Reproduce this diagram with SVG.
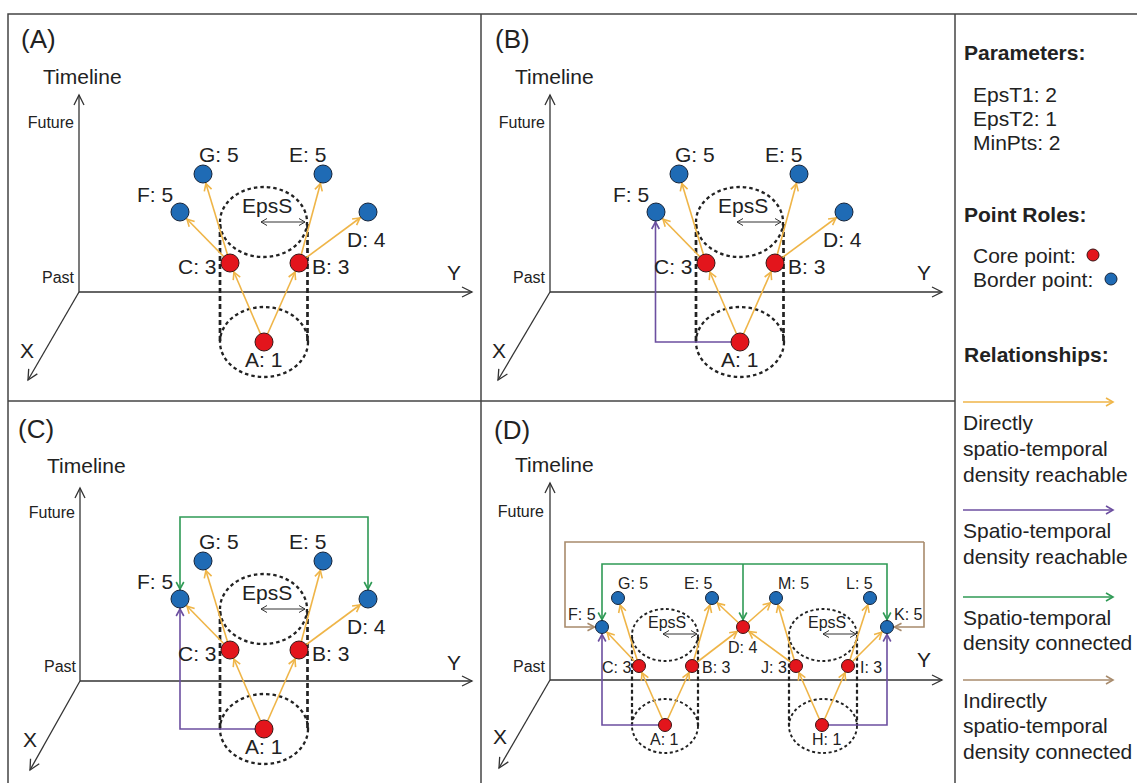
<svg xmlns="http://www.w3.org/2000/svg" width="1137" height="783" viewBox="0 0 1137 783">
  <style>
    .t { font-family: "Liberation Sans", Arial, sans-serif; fill: #222; }
    .pl { font-size: 26px; }
    .tl { font-size: 21px; }
    .sm { font-size: 16px; }
    .axl { font-size: 21px; }
    .lb { font-size: 21px; }
    .lbd { font-size: 16px; }
    .lg { font-size: 21px; }
    .lgb { font-size: 21px; font-weight: bold; }
    .frame { fill: none; stroke: #444; stroke-width: 1.5; }
    .axis { fill: none; stroke: #333; stroke-width: 1.3; }
    .ell { fill: none; stroke: #222; stroke-width: 2.3; stroke-dasharray: 3.5 3; }
    .cyl { fill: none; stroke: #222; stroke-width: 2.7; stroke-dasharray: 5 3; }
    .elld { fill: none; stroke: #222; stroke-width: 1.9; stroke-dasharray: 3 2.6; }
    .cyld { fill: none; stroke: #222; stroke-width: 2.2; stroke-dasharray: 4 2.6; }
    .eps { fill: none; stroke: #333; stroke-width: 1; }
    .or { fill: none; stroke: #EFB548; stroke-width: 1.6; }
    .pu { fill: none; stroke: #6C4FA0; stroke-width: 1.6; }
    .gr { fill: none; stroke: #2F9A55; stroke-width: 1.6; }
    .br { fill: none; stroke: #A88B6C; stroke-width: 1.6; }
    .core { fill: #E3151C; stroke: #3a1515; stroke-width: 1; }
    .border { fill: #1F6BB5; stroke: #15243a; stroke-width: 1; }
  </style>
  <defs>
    <marker id="m-axis" markerUnits="userSpaceOnUse" markerWidth="12" markerHeight="12" refX="0" refY="0" orient="auto" overflow="visible">
      <path d="M-10,-5 L0,0 L-10,5" fill="none" stroke="#333" stroke-width="1.3"/>
    </marker>
    <marker id="m-eps" markerUnits="userSpaceOnUse" markerWidth="8" markerHeight="8" refX="0" refY="0" orient="auto-start-reverse" overflow="visible">
      <path d="M-6,-3.5 L0,0 L-6,3.5" fill="none" stroke="#333" stroke-width="1"/>
    </marker>
    <!-- arrowheads stopping at the rim of a large point (r 9) -->
    <marker id="m-or" markerUnits="userSpaceOnUse" markerWidth="10" markerHeight="10" refX="10" refY="0" orient="auto" overflow="visible">
      <path d="M-7,-3.8 L0,0 L-7,3.8" fill="none" stroke="#EFB548" stroke-width="1.6"/>
    </marker>
    <marker id="m-pu" markerUnits="userSpaceOnUse" markerWidth="10" markerHeight="10" refX="10" refY="0" orient="auto" overflow="visible">
      <path d="M-7,-3.8 L0,0 L-7,3.8" fill="none" stroke="#6C4FA0" stroke-width="1.6"/>
    </marker>
    <marker id="m-gr" markerUnits="userSpaceOnUse" markerWidth="10" markerHeight="10" refX="10" refY="0" orient="auto" overflow="visible">
      <path d="M-7,-3.8 L0,0 L-7,3.8" fill="none" stroke="#2F9A55" stroke-width="1.6"/>
    </marker>
    <!-- arrowheads stopping at the rim of a small point (r 6.5) -->
    <marker id="m-or-s" markerUnits="userSpaceOnUse" markerWidth="10" markerHeight="10" refX="7.5" refY="0" orient="auto" overflow="visible">
      <path d="M-7,-3.8 L0,0 L-7,3.8" fill="none" stroke="#EFB548" stroke-width="1.6"/>
    </marker>
    <marker id="m-pu-s" markerUnits="userSpaceOnUse" markerWidth="10" markerHeight="10" refX="7.5" refY="0" orient="auto" overflow="visible">
      <path d="M-7,-3.8 L0,0 L-7,3.8" fill="none" stroke="#6C4FA0" stroke-width="1.6"/>
    </marker>
    <marker id="m-gr-s" markerUnits="userSpaceOnUse" markerWidth="10" markerHeight="10" refX="7.5" refY="0" orient="auto" overflow="visible">
      <path d="M-7,-3.8 L0,0 L-7,3.8" fill="none" stroke="#2F9A55" stroke-width="1.6"/>
    </marker>
    <marker id="m-br-s" markerUnits="userSpaceOnUse" markerWidth="10" markerHeight="10" refX="7.5" refY="0" orient="auto" overflow="visible">
      <path d="M-7,-3.8 L0,0 L-7,3.8" fill="none" stroke="#A88B6C" stroke-width="1.6"/>
    </marker>
    <!-- legend arrowheads -->
    <marker id="l-or" markerUnits="userSpaceOnUse" markerWidth="10" markerHeight="10" refX="0" refY="0" orient="auto" overflow="visible">
      <path d="M-7,-4 L0,0 L-7,4" fill="none" stroke="#EFB548" stroke-width="1.6"/>
    </marker>
    <marker id="l-pu" markerUnits="userSpaceOnUse" markerWidth="10" markerHeight="10" refX="0" refY="0" orient="auto" overflow="visible">
      <path d="M-7,-4 L0,0 L-7,4" fill="none" stroke="#6C4FA0" stroke-width="1.6"/>
    </marker>
    <marker id="l-gr" markerUnits="userSpaceOnUse" markerWidth="10" markerHeight="10" refX="0" refY="0" orient="auto" overflow="visible">
      <path d="M-7,-4 L0,0 L-7,4" fill="none" stroke="#2F9A55" stroke-width="1.6"/>
    </marker>
    <marker id="l-br" markerUnits="userSpaceOnUse" markerWidth="10" markerHeight="10" refX="0" refY="0" orient="auto" overflow="visible">
      <path d="M-7,-4 L0,0 L-7,4" fill="none" stroke="#A88B6C" stroke-width="1.6"/>
    </marker>
  </defs>

  <rect x="0" y="0" width="1137" height="783" fill="#fff"/>

  <!-- frame and panel dividers -->
  <g id="frame">
    <path class="frame" d="M8,783 V14 H1137"/>
    <path class="frame" d="M481,14 V783"/>
    <path class="frame" d="M955,14 V783"/>
    <path class="frame" d="M8,401 H955"/>
  </g>

  <!-- ===== Panel A ===== -->
  <g id="panel-A">
    <g id="axes-A">
      <path class="axis" d="M79,292 V95" marker-end="url(#m-axis)"/>
      <path class="axis" d="M79,292 H472" marker-end="url(#m-axis)"/>
      <path class="axis" d="M79,292 L28,380" marker-end="url(#m-axis)"/>
      <text class="t pl" x="21" y="48">(A)</text>
      <text class="t tl" x="43" y="84">Timeline</text>
      <text class="t sm" x="74" y="128" text-anchor="end">Future</text>
      <text class="t sm" x="74" y="283" text-anchor="end">Past</text>
      <text class="t axl" x="447" y="280">Y</text>
      <text class="t axl" x="20" y="358">X</text>
    </g>
    <g id="region-A">
      <ellipse class="ell" cx="263.5" cy="222" rx="43.5" ry="35"/>
      <ellipse class="ell" cx="264" cy="342" rx="44" ry="35"/>
      <path class="cyl" d="M220,224 V342 M307.5,224 V342"/>
      <path class="eps" d="M261,222 H305" marker-start="url(#m-eps)" marker-end="url(#m-eps)"/>
      <text class="t lb" x="242" y="213">EpsS</text>
    </g>
    <g id="connectors-A">
      <path class="or" d="M264,342 L230,263" marker-end="url(#m-or)"/>
      <path class="or" d="M264,342 L299,263" marker-end="url(#m-or)"/>
      <path class="or" d="M230,263 L180,212" marker-end="url(#m-or)"/>
      <path class="or" d="M230,263 L203,174" marker-end="url(#m-or)"/>
      <path class="or" d="M299,263 L323,174" marker-end="url(#m-or)"/>
      <path class="or" d="M299,263 L368,212" marker-end="url(#m-or)"/>
    </g>
    <g id="A-A"><circle class="core" cx="264" cy="342" r="9"/><text class="t lb" x="245" y="367">A: 1</text></g>
    <g id="A-B"><circle class="core" cx="299" cy="263" r="9"/><text class="t lb" x="312" y="274">B: 3</text></g>
    <g id="A-C"><circle class="core" cx="230" cy="263" r="9"/><text class="t lb" x="178" y="274">C: 3</text></g>
    <g id="A-D"><circle class="border" cx="368" cy="212" r="9"/><text class="t lb" x="347" y="247">D: 4</text></g>
    <g id="A-E"><circle class="border" cx="323" cy="174" r="9"/><text class="t lb" x="289" y="162">E: 5</text></g>
    <g id="A-F"><circle class="border" cx="180" cy="212" r="9"/><text class="t lb" x="137" y="202">F: 5</text></g>
    <g id="A-G"><circle class="border" cx="203" cy="174" r="9"/><text class="t lb" x="199" y="162">G: 5</text></g>
  </g>

  <!-- ===== Panel B ===== -->
  <g id="panel-B">
    <g id="axes-B">
      <path class="axis" d="M550,292 V95" marker-end="url(#m-axis)"/>
      <path class="axis" d="M550,292 H942" marker-end="url(#m-axis)"/>
      <path class="axis" d="M550,292 L498,380" marker-end="url(#m-axis)"/>
      <text class="t pl" x="495" y="48">(B)</text>
      <text class="t tl" x="515" y="84">Timeline</text>
      <text class="t sm" x="545" y="128" text-anchor="end">Future</text>
      <text class="t sm" x="545" y="283" text-anchor="end">Past</text>
      <text class="t axl" x="917" y="280">Y</text>
      <text class="t axl" x="492" y="358">X</text>
    </g>
    <g transform="translate(476,0)">
      <g id="region-B">
        <ellipse class="ell" cx="263.5" cy="222" rx="43.5" ry="35"/>
        <ellipse class="ell" cx="264" cy="342" rx="44" ry="35"/>
        <path class="cyl" d="M220,224 V342 M307.5,224 V342"/>
        <path class="eps" d="M261,222 H305" marker-start="url(#m-eps)" marker-end="url(#m-eps)"/>
        <text class="t lb" x="242" y="213">EpsS</text>
      </g>
      <g id="connectors-B">
        <path class="pu" d="M264,342 H179.5 V212" marker-end="url(#m-pu)"/>
        <path class="or" d="M264,342 L230,263" marker-end="url(#m-or)"/>
        <path class="or" d="M264,342 L299,263" marker-end="url(#m-or)"/>
        <path class="or" d="M230,263 L180,212" marker-end="url(#m-or)"/>
        <path class="or" d="M230,263 L203,174" marker-end="url(#m-or)"/>
        <path class="or" d="M299,263 L323,174" marker-end="url(#m-or)"/>
        <path class="or" d="M299,263 L368,212" marker-end="url(#m-or)"/>
      </g>
      <g id="B-A"><circle class="core" cx="264" cy="342" r="9"/><text class="t lb" x="245" y="367">A: 1</text></g>
      <g id="B-B"><circle class="core" cx="299" cy="263" r="9"/><text class="t lb" x="312" y="274">B: 3</text></g>
      <g id="B-C"><circle class="core" cx="230" cy="263" r="9"/><text class="t lb" x="178" y="274">C: 3</text></g>
      <g id="B-D"><circle class="border" cx="368" cy="212" r="9"/><text class="t lb" x="347" y="247">D: 4</text></g>
      <g id="B-E"><circle class="border" cx="323" cy="174" r="9"/><text class="t lb" x="289" y="162">E: 5</text></g>
      <g id="B-F"><circle class="border" cx="180" cy="212" r="9"/><text class="t lb" x="137" y="202">F: 5</text></g>
      <g id="B-G"><circle class="border" cx="203" cy="174" r="9"/><text class="t lb" x="199" y="162">G: 5</text></g>
    </g>
  </g>

  <!-- ===== Panel C ===== -->
  <g id="panel-C">
    <g id="axes-C">
      <path class="axis" d="M80,681 V488" marker-end="url(#m-axis)"/>
      <path class="axis" d="M80,681 H472" marker-end="url(#m-axis)"/>
      <path class="axis" d="M80,681 L30,770" marker-end="url(#m-axis)"/>
      <text class="t pl" x="18" y="438">(C)</text>
      <text class="t tl" x="47" y="473">Timeline</text>
      <text class="t sm" x="75" y="518" text-anchor="end">Future</text>
      <text class="t sm" x="76" y="672" text-anchor="end">Past</text>
      <text class="t axl" x="447" y="670">Y</text>
      <text class="t axl" x="23" y="747">X</text>
    </g>
    <g transform="translate(0,387)">
      <g id="region-C">
        <ellipse class="ell" cx="263.5" cy="222" rx="43.5" ry="35"/>
        <ellipse class="ell" cx="264" cy="342" rx="44" ry="35"/>
        <path class="cyl" d="M220,224 V342 M307.5,224 V342"/>
        <path class="eps" d="M261,222 H305" marker-start="url(#m-eps)" marker-end="url(#m-eps)"/>
        <text class="t lb" x="242" y="213">EpsS</text>
      </g>
      <g id="connectors-C">
        <path class="gr" d="M274,130 H180 V212" marker-end="url(#m-gr)"/>
        <path class="gr" d="M274,130 H368 V212" marker-end="url(#m-gr)"/>
        <path class="pu" d="M264,342 H180 V212" marker-end="url(#m-pu)"/>
        <path class="or" d="M264,342 L230,263" marker-end="url(#m-or)"/>
        <path class="or" d="M264,342 L299,263" marker-end="url(#m-or)"/>
        <path class="or" d="M230,263 L180,212" marker-end="url(#m-or)"/>
        <path class="or" d="M230,263 L203,174" marker-end="url(#m-or)"/>
        <path class="or" d="M299,263 L323,174" marker-end="url(#m-or)"/>
        <path class="or" d="M299,263 L368,212" marker-end="url(#m-or)"/>
      </g>
      <g id="C-A"><circle class="core" cx="264" cy="342" r="9"/><text class="t lb" x="245" y="367">A: 1</text></g>
      <g id="C-B"><circle class="core" cx="299" cy="263" r="9"/><text class="t lb" x="312" y="274">B: 3</text></g>
      <g id="C-C"><circle class="core" cx="230" cy="263" r="9"/><text class="t lb" x="178" y="274">C: 3</text></g>
      <g id="C-D"><circle class="border" cx="368" cy="212" r="9"/><text class="t lb" x="347" y="247">D: 4</text></g>
      <g id="C-E"><circle class="border" cx="323" cy="174" r="9"/><text class="t lb" x="289" y="162">E: 5</text></g>
      <g id="C-F"><circle class="border" cx="180" cy="212" r="9"/><text class="t lb" x="137" y="202">F: 5</text></g>
      <g id="C-G"><circle class="border" cx="203" cy="174" r="9"/><text class="t lb" x="199" y="162">G: 5</text></g>
    </g>
  </g>

  <!-- ===== Panel D ===== -->
  <g id="panel-D">
    <g id="axes-D">
      <path class="axis" d="M550,680 V483" marker-end="url(#m-axis)"/>
      <path class="axis" d="M550,680 H942" marker-end="url(#m-axis)"/>
      <path class="axis" d="M550,680 L499,768" marker-end="url(#m-axis)"/>
      <text class="t pl" x="494" y="439">(D)</text>
      <text class="t tl" x="515" y="472">Timeline</text>
      <text class="t sm" x="544" y="517" text-anchor="end">Future</text>
      <text class="t sm" x="545" y="672" text-anchor="end">Past</text>
      <text class="t axl" x="917" y="667">Y</text>
      <text class="t axl" x="493" y="744">X</text>
    </g>
    <g id="region-D">
      <ellipse class="elld" cx="665" cy="635" rx="33" ry="26"/>
      <ellipse class="elld" cx="665" cy="726" rx="33" ry="27"/>
      <path class="cyld" d="M632,637 V726 M698,637 V726"/>
      <path class="eps" d="M663,634 H697" marker-start="url(#m-eps)" marker-end="url(#m-eps)"/>
      <text class="t lbd" x="648" y="628">EpsS</text>
      <ellipse class="elld" cx="823" cy="635" rx="34" ry="26"/>
      <ellipse class="elld" cx="823" cy="726" rx="34" ry="27"/>
      <path class="cyld" d="M789,637 V726 M857,637 V726"/>
      <path class="eps" d="M823,634 H856" marker-start="url(#m-eps)" marker-end="url(#m-eps)"/>
      <text class="t lbd" x="808" y="628">EpsS</text>
    </g>
    <g id="connectors-D">
      <path class="br" d="M924,542 H565 V627 H602" marker-end="url(#m-br-s)"/>
      <path class="br" d="M924,542 V627 H887" marker-end="url(#m-br-s)"/>
      <path class="gr" d="M743,564 H602 V627" marker-end="url(#m-gr-s)"/>
      <path class="gr" d="M743,564 H887 V627" marker-end="url(#m-gr-s)"/>
      <path class="gr" d="M743,564 V627" marker-end="url(#m-gr-s)"/>
      <path class="pu" d="M665,725 H602 V627" marker-end="url(#m-pu-s)"/>
      <path class="pu" d="M822,725 H887 V627" marker-end="url(#m-pu-s)"/>
      <path class="or" d="M665,725 L639,666" marker-end="url(#m-or-s)"/>
      <path class="or" d="M665,725 L692,666" marker-end="url(#m-or-s)"/>
      <path class="or" d="M639,666 L602,627" marker-end="url(#m-or-s)"/>
      <path class="or" d="M639,666 L618,598" marker-end="url(#m-or-s)"/>
      <path class="or" d="M692,666 L712,598" marker-end="url(#m-or-s)"/>
      <path class="or" d="M692,666 L743,627" marker-end="url(#m-or-s)"/>
      <path class="or" d="M743,627 L712,598" marker-end="url(#m-or-s)"/>
      <path class="or" d="M743,627 L776,598" marker-end="url(#m-or-s)"/>
      <path class="or" d="M796,666 L743,627" marker-end="url(#m-or-s)"/>
      <path class="or" d="M796,666 L776,598" marker-end="url(#m-or-s)"/>
      <path class="or" d="M822,725 L796,666" marker-end="url(#m-or-s)"/>
      <path class="or" d="M822,725 L848,666" marker-end="url(#m-or-s)"/>
      <path class="or" d="M848,666 L870,598" marker-end="url(#m-or-s)"/>
      <path class="or" d="M848,666 L887,627" marker-end="url(#m-or-s)"/>
    </g>
    <g id="D-A"><circle class="core" cx="665" cy="725" r="6.5"/><text class="t lbd" x="650" y="745">A: 1</text></g>
    <g id="D-B"><circle class="core" cx="692" cy="666" r="6.5"/><text class="t lbd" x="702" y="673">B: 3</text></g>
    <g id="D-C"><circle class="core" cx="639" cy="666" r="6.5"/><text class="t lbd" x="602" y="673">C: 3</text></g>
    <g id="D-D"><circle class="core" cx="743" cy="627" r="6.5"/><text class="t lbd" x="728" y="653">D: 4</text></g>
    <g id="D-E"><circle class="border" cx="712" cy="598" r="6.5"/><text class="t lbd" x="684" y="589">E: 5</text></g>
    <g id="D-F"><circle class="border" cx="602" cy="627" r="6.5"/><text class="t lbd" x="568" y="620">F: 5</text></g>
    <g id="D-G"><circle class="border" cx="618" cy="598" r="6.5"/><text class="t lbd" x="618" y="589">G: 5</text></g>
    <g id="D-H"><circle class="core" cx="822" cy="725" r="6.5"/><text class="t lbd" x="812" y="745">H: 1</text></g>
    <g id="D-I"><circle class="core" cx="848" cy="666" r="6.5"/><text class="t lbd" x="860" y="673">I: 3</text></g>
    <g id="D-J"><circle class="core" cx="796" cy="666" r="6.5"/><text class="t lbd" x="761" y="673">J: 3</text></g>
    <g id="D-K"><circle class="border" cx="887" cy="627" r="6.5"/><text class="t lbd" x="894" y="620">K: 5</text></g>
    <g id="D-L"><circle class="border" cx="870" cy="598" r="6.5"/><text class="t lbd" x="846" y="589">L: 5</text></g>
    <g id="D-M"><circle class="border" cx="776" cy="598" r="6.5"/><text class="t lbd" x="778" y="589">M: 5</text></g>
  </g>

  <!-- ===== Legend ===== -->
  <g id="legend">
    <text class="t lgb" x="964" y="60">Parameters:</text>
    <text class="t lg" x="973" y="102">EpsT1: 2</text>
    <text class="t lg" x="973" y="126">EpsT2: 1</text>
    <text class="t lg" x="973" y="150">MinPts: 2</text>
    <text class="t lgb" x="964" y="222">Point Roles:</text>
    <text class="t lg" x="973" y="263">Core point:</text>
    <circle class="core" cx="1093" cy="255" r="6"/>
    <text class="t lg" x="973" y="287">Border point:</text>
    <circle class="border" cx="1111" cy="279" r="6"/>
    <text class="t lgb" x="964" y="362">Relationships:</text>
    <path class="or" d="M963,402 H1113" marker-end="url(#l-or)"/>
    <text class="t lg" x="963" y="430">Directly</text>
    <text class="t lg" x="963" y="456">spatio-temporal</text>
    <text class="t lg" x="963" y="482">density reachable</text>
    <path class="pu" d="M963,510 H1113" marker-end="url(#l-pu)"/>
    <text class="t lg" x="963" y="538">Spatio-temporal</text>
    <text class="t lg" x="963" y="564">density reachable</text>
    <path class="gr" d="M963,597 H1113" marker-end="url(#l-gr)"/>
    <text class="t lg" x="963" y="625">Spatio-temporal</text>
    <text class="t lg" x="963" y="650">density connected</text>
    <path class="br" d="M963,680 H1113" marker-end="url(#l-br)"/>
    <text class="t lg" x="963" y="708">Indirectly</text>
    <text class="t lg" x="963" y="733">spatio-temporal</text>
    <text class="t lg" x="963" y="759">density connected</text>
  </g>
</svg>
